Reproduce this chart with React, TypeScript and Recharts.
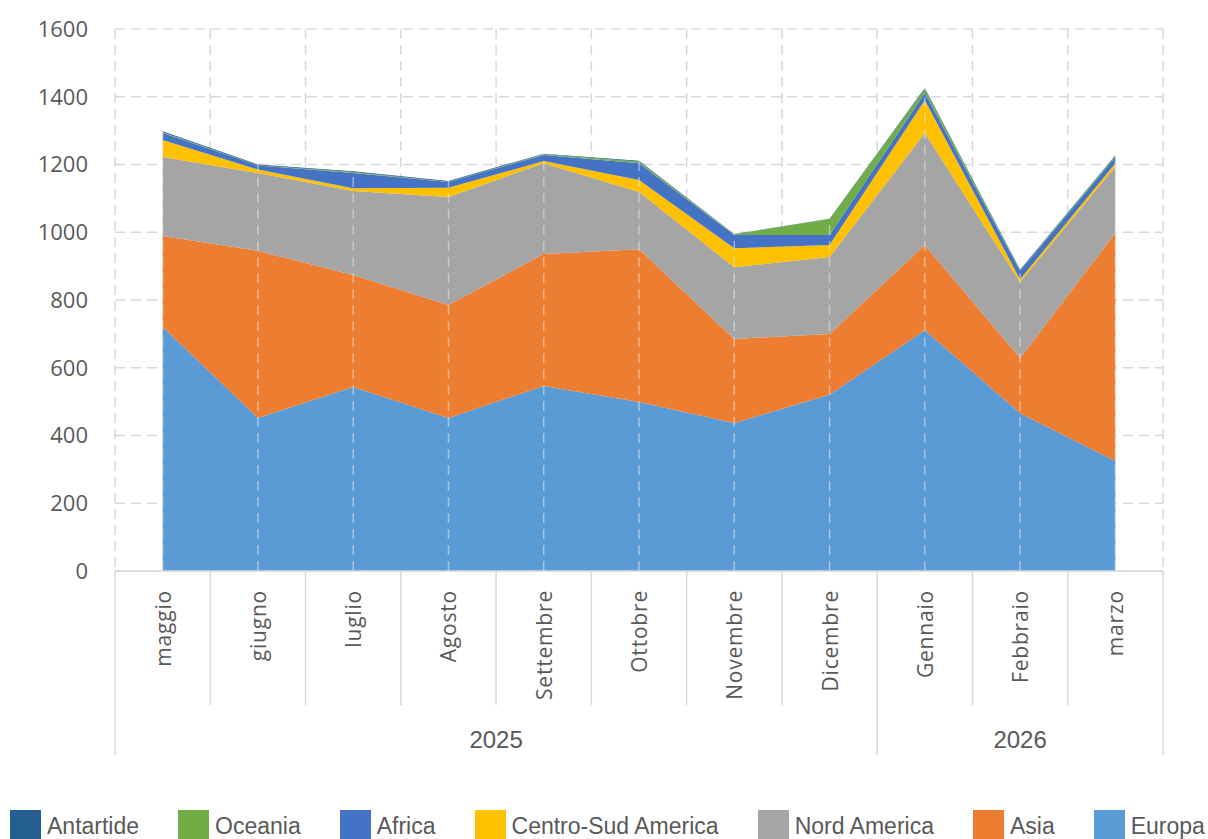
import React from 'react';
import { AreaChart, Area, XAxis, YAxis, CartesianGrid, ReferenceLine } from 'recharts';

const months = ['maggio', 'giugno', 'luglio', 'Agosto', 'Settembre', 'Ottobre', 'Novembre', 'Dicembre', 'Gennaio', 'Febbraio', 'marzo'];
const yearLabels = ['2025', '2026'];
const yearSpans = [8, 3];
const yTicks = [0, 200, 400, 600, 800, 1000, 1200, 1400, 1600];

const europa = [720, 452, 543, 452, 546, 499, 437, 520, 711, 466, 325];
const asia = [269, 493, 331, 333, 390, 451, 248, 180, 251, 163, 673];
const nordAmerica = [233, 230, 248, 319, 268, 169, 212, 227, 331, 224, 195];
const centroSud = [50, 10, 8, 27, 6, 35, 56, 35, 97, 8, 11];
const africa = [21, 12, 45, 17, 18, 50, 39, 30, 21, 25, 18];
const oceania = [2, 1, 3, 1, 2, 5, 2, 47, 12, 2, 3];
const antartide = [3, 2, 2, 2, 2, 2, 1, 1, 3, 2, 2];

const seriesNames = ['Europa', 'Asia', 'Nord America', 'Centro-Sud America', 'Africa', 'Oceania', 'Antartide'];
const seriesValues = [europa, asia, nordAmerica, centroSud, africa, oceania, antartide];
const seriesColors = ['#5B9BD5', '#ED7D31', '#A5A5A5', '#FFC000', '#4472C4', '#70AD47', '#255E91'];

const data = months.map((m, i) => {
  const row: Record<string, any> = { month: m };
  let total = 0;
  seriesNames.forEach((s, k) => {
    row[s] = seriesValues[k][i];
    total += seriesValues[k][i];
  });
  row.total = total;
  return row;
});

const W = 1208;
const H = 839;
const PLOT_LEFT = 115;
const PLOT_RIGHT = 1163;
const PLOT_TOP = 29;
const PLOT_BOTTOM = 571;
const PLOT_W = PLOT_RIGHT - PLOT_LEFT;
const BAND = PLOT_W / months.length;
const Y_AXIS_W = 60;
const X_AXIS_H = 200;

const groupStarts: number[] = [];
{
  let acc = 0;
  yearSpans.forEach((s) => {
    groupStarts.push(acc);
    acc += s;
  });
}

const TICK_FONT = "'Open Sans', 'DejaVu Sans', sans-serif";
const LEGEND_FONT = "'Liberation Sans', Arial, sans-serif";
const TEXT_COLOR = '#595959';
const LINE_COLOR = '#D9D9D9';

const MonthTick = (props: any) => {
  const { x, y, payload, index } = props;
  const half = BAND / 2;
  const ty = y + 19;
  const gIdx = groupStarts.indexOf(index);
  const els: React.ReactNode[] = [];
  if (gIdx >= 0) {
    els.push(<line key="gs" x1={x - half} x2={x - half} y1={y} y2={y + 184} stroke={LINE_COLOR} strokeWidth={1.5} />);
    const cx = x - half + (yearSpans[gIdx] * BAND) / 2;
    els.push(
      <text key="yl" x={cx} y={y + 177} textAnchor="middle" fill={TEXT_COLOR} fontFamily={LEGEND_FONT} fontSize={24}>
        {yearLabels[gIdx]}
      </text>
    );
  } else {
    els.push(<line key="ms" x1={x - half} x2={x - half} y1={y} y2={y + 134} stroke={LINE_COLOR} strokeWidth={1.5} />);
  }
  if (index === months.length - 1) {
    els.push(<line key="end" x1={x + half} x2={x + half} y1={y} y2={y + 184} stroke={LINE_COLOR} strokeWidth={1.5} />);
  }
  els.push(
    <text
      key="lbl"
      x={x}
      y={ty}
      transform={`rotate(-90, ${x}, ${ty})`}
      textAnchor="end"
      dominantBaseline="central"
      fill={TEXT_COLOR}
      fontFamily={TICK_FONT}
      fontSize={21}
      letterSpacing={0.8}
    >
      {payload.value}
    </text>
  );
  return <g>{els}</g>;
};

const legendOrder = [...seriesNames.map((n, i) => ({ name: n, color: seriesColors[i] }))].reverse();

export default function App() {
  return (
    <div style={{ position: 'absolute', left: 0, top: 0, width: W, height: H, overflow: 'hidden', background: '#fff' }}>
      <AreaChart
        width={W}
        height={H}
        data={data}
        margin={{ top: PLOT_TOP, right: W - PLOT_RIGHT, bottom: H - PLOT_BOTTOM - X_AXIS_H, left: PLOT_LEFT - Y_AXIS_W }}
      >
        <CartesianGrid
          stroke={LINE_COLOR}
          strokeWidth={1.5}
          strokeDasharray="10 6"
          verticalCoordinatesGenerator={(p: any) => {
            const l = p?.offset?.left ?? PLOT_LEFT;
            const w = p?.offset?.width ?? PLOT_W;
            const arr: number[] = [];
            for (let i = 0; i <= months.length; i++) arr.push(l + (i * w) / months.length);
            return arr;
          }}
        />
        <XAxis
          dataKey="month"
          interval={0}
          height={X_AXIS_H}
          padding={{ left: BAND / 2, right: BAND / 2 }}
          tickLine={false}
          tickSize={0}
          tickMargin={0}
          axisLine={{ stroke: LINE_COLOR, strokeWidth: 1.5 }}
          tick={<MonthTick />}
        />
        <YAxis
          width={Y_AXIS_W}
          domain={[0, 1600]}
          ticks={yTicks}
          interval={0}
          axisLine={false}
          tickLine={false}
          tickSize={0}
          tickMargin={27}
          tick={{ fill: TEXT_COLOR, fontFamily: TICK_FONT, fontSize: 22 }}
        />
        {seriesNames.map((s, k) => (
          <Area
            key={s}
            type="linear"
            dataKey={s}
            stackId="a"
            fill={seriesColors[k]}
            fillOpacity={1}
            stroke="none"
            isAnimationActive={false}
          />
        ))}
        {data.map((d) => (
          <ReferenceLine
            key={'drop-' + d.month}
            segment={[{ x: d.month, y: 0 }, { x: d.month, y: d.total }]}
            stroke="#E6E6E6"
            strokeOpacity={0.55}
            strokeWidth={1.5}
            strokeDasharray="10 6"
          />
        ))}
      </AreaChart>
      <div
        style={{
          position: 'absolute',
          left: 10,
          top: 810,
          display: 'flex',
          gap: 39,
          fontFamily: LEGEND_FONT,
          fontSize: 23,
          color: TEXT_COLOR,
          lineHeight: '30px',
          whiteSpace: 'nowrap',
        }}
      >
        {legendOrder.map((it) => (
          <div key={it.name} style={{ display: 'flex', alignItems: 'flex-start' }}>
            <div style={{ width: 31, height: 30, background: it.color }} />
            <span style={{ marginLeft: 6, marginTop: 1 }}>{it.name}</span>
          </div>
        ))}
      </div>
    </div>
  );
}
